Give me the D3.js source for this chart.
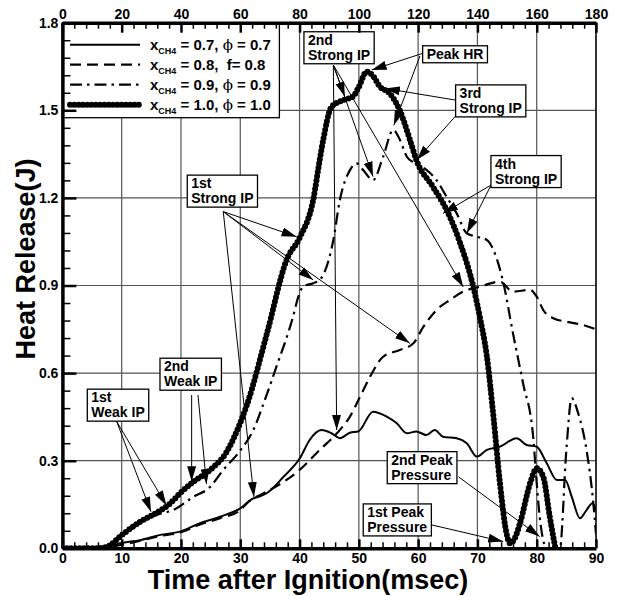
<!DOCTYPE html>
<html><head><meta charset="utf-8">
<script src="https://cdn.jsdelivr.net/npm/d3@7/dist/d3.min.js"></script>
<style>
body{margin:0;background:#fff;}
svg{display:block;font-family:"Liberation Sans",Arial,sans-serif;font-weight:bold;}
</style></head><body>
<svg id="chart" width="619" height="596"></svg>
<script>
// ---- Heat release (J) vs time after ignition (msec) ----
const time07 = [0,6,7.5,9.7,13.1,16.5,19.8,23.2,26.6,30,32.2,33.3,34.4,37.3,40.1,41.7,43.7,45.4,46.8,48.5,49.9,52.4,54.7,56.4,58.1,59.7,61.4,62.8,64.2,66.5,68.2,69.9,71.6,73.8,76.6,78.3,80,81.7,83.4,84.8,85.9,87.3,88.4,89.4,90];
const heat07 = [0,0,0.004,0.017,0.028,0.046,0.057,0.086,0.108,0.137,0.171,0.178,0.188,0.245,0.31,0.371,0.405,0.394,0.377,0.396,0.40,0.468,0.451,0.428,0.394,0.40,0.388,0.405,0.382,0.377,0.36,0.314,0.337,0.348,0.377,0.354,0.348,0.291,0.234,0.234,0.177,0.103,0.131,0.154,0.13];

const time08 = [0,6,8,10,13,16.5,20,23,26.6,30,31.1,32.2,33.3,35,37.5,40.1,43.4,46.3,48.5,50.2,51.9,54.1,56.9,59.2,60.9,63.1,65.4,67.6,70.4,73.8,76,78.9,80,81.1,82.8,85,87.8,90];
const heat08 = [0,0,0.004,0.012,0.025,0.042,0.055,0.08,0.103,0.13,0.154,0.171,0.182,0.2,0.23,0.27,0.337,0.394,0.451,0.519,0.588,0.656,0.679,0.702,0.759,0.816,0.851,0.879,0.896,0.913,0.879,0.885,0.862,0.816,0.788,0.776,0.765,0.75];

const time09 = [0,6,8,10,13.1,16,18.7,22,24.9,27,30,32.2,34,36.1,38.9,39.8,40.6,42.3,43.4,45.7,46.8,48.5,49.6,50.7,52.4,54.1,55.8,56.9,58.1,59.5,61.4,63.1,64.8,66.5,68.2,69.9,71.6,72.7,74.4,76,77.7,79.4,80,80.5,81.7,83.9,85,85.9,87,88.4,89.5,90];
const heat09 = [0,0,0.005,0.04,0.085,0.115,0.131,0.175,0.21,0.265,0.335,0.405,0.5,0.622,0.793,0.862,0.896,0.908,0.919,1.056,1.193,1.295,1.318,1.296,1.261,1.341,1.433,1.40,1.341,1.318,1.296,1.261,1.204,1.147,1.079,1.067,1.056,1.022,0.907,0.736,0.565,0.382,0.223,0.108,0,0,0.337,0.514,0.462,0.337,0.165,0.05];

const time10 = [0,6,7.5,10,13.1,15.9,18.1,19.8,22.1,24.9,27.7,30,31.1,34.5,37.8,40.1,42.3,43.4,44,45.4,47.4,49,50,51.3,52.3,53.6,55.2,56.9,58.6,59.7,62.5,64.8,67,69.3,70.4,71.6,72.7,73.8,74.9,75.5,76.2,77.2,78.9,80,81.1,82.2,83.1];
const heat10 = [0,0,0.005,0.045,0.091,0.122,0.152,0.188,0.228,0.268,0.33,0.43,0.49,0.736,0.987,1.067,1.193,1.33,1.40,1.512,1.535,1.547,1.58,1.632,1.62,1.58,1.558,1.50,1.40,1.33,1.238,1.159,1.05,0.896,0.793,0.656,0.451,0.223,0.052,0.017,0.03,0.087,0.224,0.274,0.245,0.108,0.005];

// Legend entries: mole fraction and equivalence-ratio text
const legendFrac = ["0.7","0.8","0.9","1.0"];
const legendRatio = [["ϕ"," = 0.7"],["f","= 0.8"],["ϕ"," = 0.9"],["ϕ"," = 1.0"]];

// Axis ticks
const bottomTicks = [0,10,20,30,40,50,60,70,80,90];
const topTicks = [0,20,40,60,80,100,120,140,160,180];
const leftTicks = [0,0.3,0.6,0.9,1.2,1.5,1.8];

// Annotation labels, their box corners (time, heat) and arrows [from, to]
const noteLabels = [["2nd","Strong IP"],["Peak HR"],["3rd","Strong IP"],["4th","Strong IP"],["1st","Strong IP"],["2nd","Weak IP"],["1st","Weak IP"],["2nd Peak","Pressure"],["1st Peak","Pressure"]];
const noteCorner = [[40.74,1.769],[60.76,1.721],[66.32,1.587],[72.28,1.345],[21.06,1.278],[16.46,0.651],[4.2,0.545],[54.79,0.331],[50.74,0.152]];
const arrowFrom = [
  [45.7,1.655],[45.7,1.655],[45.7,1.655],[45.7,1.655],
  [60.76,1.695],[60.3,1.686],
  [66.3,1.535],[66.3,1.48],
  [72.3,1.244],[72.3,1.244],
  [27.13,1.153],[27.13,1.153],[27.13,1.153],[27.13,1.153],
  [21.8,0.525],[22.87,0.525],
  [9.16,0.434],[9.16,0.434],
  [66.8,0.245],[62.3,0.08]];
const arrowTo = [
  [47.65,1.546],[52.4,1.273],[46.26,0.405],[67.6,0.895],
  [52.16,1.638],[55.9,1.449],
  [54.4,1.575],[59.75,1.33],
  [64.2,1.147],[68.2,1.079],
  [39.5,1.067],[42.3,0.919],[58.6,0.702],[32.3,0.176],
  [21.8,0.23],[24.3,0.22],
  [14.94,0.125],[17.55,0.147],
  [80.5,0.04],[74.35,0.023]];

const svg = d3.select("#chart");
const L = 62.4, R = 596, T = 22.7, B = 548.3;
const x = d3.scaleLinear().domain([0,90]).range([L,R]);
const xTop = d3.scaleLinear().domain([0,180]).range([L,R]);
const y = d3.scaleLinear().domain([0,1.8]).range([B,T]);

// grid
const grid = svg.append("g").attr("stroke","#555").attr("stroke-width",1.2);
grid.selectAll("line.v").data(bottomTicks.slice(1,-1)).join("line")
  .attr("x1",d=>x(d)).attr("x2",d=>x(d)).attr("y1",T).attr("y2",B);
grid.selectAll("line.h").data(leftTicks.slice(1,-1)).join("line")
  .attr("y1",d=>y(d)).attr("y2",d=>y(d)).attr("x1",L).attr("x2",R);

// series
svg.append("defs").append("clipPath").attr("id","plotclip")
  .append("rect").attr("x",L).attr("y",T-4).attr("width",R-L).attr("height",B-T+4);
const line = d3.line().x(d=>x(d[0])).y(d=>y(d[1])).curve(d3.curveMonotoneX);
const styles = [
  {w:2, dash:null},
  {w:2.2, dash:"11 6"},
  {w:2.2, dash:"12 5 2.5 5"},
  {w:6, dash:"0 4.3", cap:"round"}
];
const series = [d3.zip(time07,heat07), d3.zip(time08,heat08), d3.zip(time09,heat09), d3.zip(time10,heat10)];
const sg = svg.append("g").attr("clip-path","url(#plotclip)");
series.forEach((s,i)=>{
  sg.append("path").attr("d",line(s)).attr("fill","none").attr("stroke","#000")
    .attr("stroke-width",styles[i].w)
    .attr("stroke-dasharray",styles[i].dash)
    .attr("stroke-linecap",styles[i].cap||"butt")
    .attr("stroke-linejoin","round");
});

// arrows
const defs = svg.select("defs");
defs.append("marker").attr("id","head").attr("markerUnits","userSpaceOnUse")
  .attr("markerWidth",16).attr("markerHeight",10).attr("refX",15).attr("refY",5)
  .attr("orient","auto").append("path").attr("d","M0,0.5L15,5L0,9.5Z").attr("fill","#000");
svg.append("g").selectAll("line").data(d3.zip(arrowFrom,arrowTo)).join("line")
  .attr("x1",d=>x(d[0][0])).attr("y1",d=>y(d[0][1]))
  .attr("x2",d=>x(d[1][0])).attr("y2",d=>y(d[1][1]))
  .attr("stroke","#000").attr("stroke-width",1).attr("marker-end","url(#head)");

// annotation boxes
noteLabels.forEach((lines,i)=>{
  const g = svg.append("g");
  const bx = x(noteCorner[i][0]), by = y(noteCorner[i][1]);
  const rect = g.append("rect");
  const txt = g.append("text").attr("font-size",14).attr("fill","#000");
  lines.forEach((s,k)=>txt.append("tspan").attr("x",bx+4).attr("y",by+13+k*15).text(s));
  const bb = txt.node().getBBox();
  rect.attr("x",bx).attr("y",by).attr("width",bb.x+bb.width+4-bx).attr("height",lines.length*15+2)
    .attr("fill","#fff").attr("stroke","#000").attr("stroke-width",1.3);
});

// legend
const lg = svg.append("g");
lg.append("rect").attr("x",x(0)).attr("y",y(1.8)).attr("width",217).attr("height",95)
  .attr("fill","#fff").attr("stroke","#000").attr("stroke-width",1.3);
legendFrac.forEach((f,i)=>{
  const ry = y(1.8)+22+i*20;
  lg.append("line").attr("x1",70).attr("x2",140).attr("y1",ry).attr("y2",ry)
    .attr("stroke","#000").attr("stroke-width",styles[i].w)
    .attr("stroke-dasharray",styles[i].dash).attr("stroke-linecap",styles[i].cap||"butt");
  const t = lg.append("text").attr("x",150).attr("y",ry+5).attr("font-size",15);
  t.append("tspan").text("x");
  t.append("tspan").attr("font-size",9).attr("dy",4).text("CH4");
  t.append("tspan").attr("dy",-4).text(" = "+f+", ");
  const r = legendRatio[i];
  if (r[0]==="ϕ") t.append("tspan").attr("font-family","DejaVu Serif").attr("font-weight","normal").text(r[0]);
  else t.append("tspan").attr("dx",4).text(r[0]);
  t.append("tspan").text(r[1]);
});

// axes
const fmt1 = d3.format(".1f");
function styleAxis(g, w){
  g.select(".domain").attr("stroke-width",w);
  g.selectAll(".tick text").attr("font-size",14).attr("font-weight","bold").attr("font-family","Liberation Sans, Arial, sans-serif").attr("fill","#000");
}
// minor ticks
svg.append("g").attr("transform",`translate(0,${B})`)
  .call(d3.axisBottom(x).tickValues(d3.range(0,90.1,2).filter(v=>v%10)).tickSize(-6).tickFormat(""))
  .call(g=>g.select(".domain").remove()).selectAll("line").attr("stroke-width",1.5);
svg.append("g").attr("transform",`translate(0,${T})`)
  .call(d3.axisTop(xTop).tickValues(d3.range(0,180.1,4).filter(v=>v%20)).tickSize(-6).tickFormat(""))
  .call(g=>g.select(".domain").remove()).selectAll("line").attr("stroke-width",1.5);
svg.append("g").attr("transform",`translate(${L},0)`)
  .call(d3.axisLeft(y).tickValues(d3.range(0,1.8,0.06).filter((v,i)=>i%5)).tickSize(-8).tickFormat(""))
  .call(g=>g.select(".domain").remove()).selectAll("line").attr("stroke-width",1.5);
// major ticks + labels
svg.append("g").attr("transform",`translate(0,${B})`)
  .call(d3.axisBottom(x).tickValues(bottomTicks).tickSize(-9).tickSizeOuter(0).tickPadding(5).tickFormat(d3.format("d")))
  .call(g=>{styleAxis(g,3.5); g.selectAll(".tick line").attr("stroke-width",2.5);});
svg.append("g").attr("transform",`translate(0,${T})`)
  .call(d3.axisTop(xTop).tickValues(topTicks).tickSize(-10).tickSizeOuter(0).tickPadding(4).tickFormat(d3.format("d")))
  .call(g=>{styleAxis(g,3.5); g.selectAll(".tick line").attr("stroke-width",2.5);});
svg.append("g").attr("transform",`translate(${L},0)`)
  .call(d3.axisLeft(y).tickValues(leftTicks).tickSize(-14).tickSizeOuter(0).tickPadding(4).tickFormat(fmt1))
  .call(g=>{styleAxis(g,3.5); g.selectAll(".tick line").attr("stroke-width",2.5);});
svg.append("line").attr("x1",R).attr("x2",R).attr("y1",T).attr("y2",B).attr("stroke","#000").attr("stroke-width",1.6);

// axis titles
svg.append("text").attr("x",308).attr("y",589).attr("text-anchor","middle").attr("font-size",27).text("Time after Ignition(msec)");
svg.append("text").attr("transform","translate(35,259) rotate(-90)").attr("text-anchor","middle").attr("font-size",27).text("Heat Release(J)");
</script>
</body></html>
